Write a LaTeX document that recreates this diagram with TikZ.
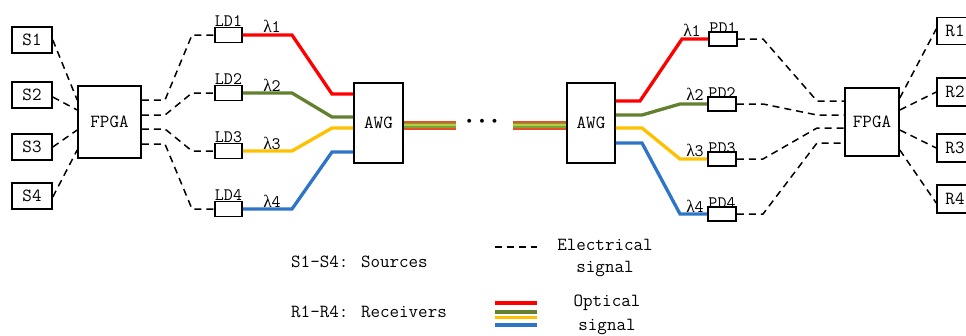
\documentclass[tikz,border=0pt]{standalone}
\usepackage{fontspec}
\newfontfamily\grk{Liberation Serif}
\definecolor{cred}{RGB}{255,0,0}
\definecolor{cgreen}{RGB}{98,128,48}
\definecolor{cyellow}{RGB}{255,192,0}
\definecolor{cblue}{RGB}{46,117,200}
\definecolor{tred}{RGB}{232,80,40}
\definecolor{tgreen}{RGB}{120,165,50}
\definecolor{tlight}{RGB}{180,205,70}
\begin{document}
\begin{tikzpicture}[x=1pt,y=-1pt,
  box/.style={draw, line width=1.6pt, inner sep=0pt, font=\ttfamily\fontsize{18.5}{18.5}\selectfont},
  small/.style={draw, line width=1.6pt, inner sep=0pt},
  lbl/.style={inner sep=0pt, font=\ttfamily\fontsize{17.5}{17.5}\selectfont},
  lam/.style={inner sep=0pt, font=\ttfamily\fontsize{17.5}{17.5}\selectfont},
  leg/.style={inner sep=0pt, font=\ttfamily\fontsize{18.5}{18.5}\selectfont},
  elec/.style={dashed, dash pattern=on 7pt off 5pt, line width=1.5pt, black},
  opt/.style={line width=3.3pt, line join=miter}
]
\useasboundingbox (0,0) rectangle (966,335);

% sources
\node[box, minimum width=40pt, minimum height=26pt] (s1) at (32,40) {S1};
\node[box, minimum width=40pt, minimum height=26pt] (s2) at (32,95) {S2};
\node[box, minimum width=40pt, minimum height=26pt] (s3) at (32,147) {S3};
\node[box, minimum width=40pt, minimum height=26pt] (s4) at (32,196) {S4};

% FPGA left
\node[box, minimum width=63pt, minimum height=72pt] (fpgaL) at (109.5,122) {FPGA};

% LD boxes
\node[small, minimum width=27pt, minimum height=15pt] (ld1) at (228.5,35) {};
\node[small, minimum width=27pt, minimum height=15pt] (ld2) at (228.5,93) {};
\node[small, minimum width=27pt, minimum height=15pt] (ld3) at (228.5,151) {};
\node[small, minimum width=27pt, minimum height=15pt] (ld4) at (228.5,209) {};
\node[lbl, anchor=base] (ld1t) at (ld1.north) {LD1};
\node[lbl, anchor=base] (ld2t) at (ld2.north) {LD2};
\node[lbl, anchor=base] (ld3t) at (ld3.north) {LD3};
\node[lbl, anchor=base] (ld4t) at (ld4.north) {LD4};

% AWG boxes
\node[box, minimum width=49pt, minimum height=80pt] (awgL) at (378.5,123) {AWG};
\node[box, minimum width=48pt, minimum height=80pt] (awgR) at (591,123) {AWG};

% PD boxes
\node[small, minimum width=28pt, minimum height=14pt] (pd1) at (723,39) {};
\node[small, minimum width=28pt, minimum height=14pt] (pd2) at (722,104) {};
\node[small, minimum width=28pt, minimum height=14pt] (pd3) at (722,159) {};
\node[small, minimum width=28pt, minimum height=14pt] (pd4) at (722,214) {};
\node[lbl, anchor=base] (pd1t) at ([yshift=-2pt]pd1.north) {PD1};
\node[lbl, anchor=base] (pd2t) at ([yshift=-2pt]pd2.north) {PD2};
\node[lbl, anchor=base] (pd3t) at ([yshift=-2pt]pd3.north) {PD3};
\node[lbl, anchor=base] (pd4t) at ([yshift=-2pt]pd4.north) {PD4};

% FPGA right
\node[box, minimum width=54pt, minimum height=68pt] (fpgaR) at (872,122) {FPGA};

% receivers
\node[box, minimum width=36pt, minimum height=27pt] (r1) at (955,31) {R1};
\node[box, minimum width=36pt, minimum height=28pt] (r2) at (955,92) {R2};
\node[box, minimum width=36pt, minimum height=28pt] (r3) at (955,148) {R3};
\node[box, minimum width=36pt, minimum height=28pt] (r4) at (955,199) {R4};

% ports
\coordinate (fl1) at (fpgaL.west |- 0,100);
\coordinate (fl2) at (fpgaL.west |- 0,110);
\coordinate (fl3) at (fpgaL.west |- 0,130);
\coordinate (fl4) at (fpgaL.west |- 0,150);
\coordinate (fo1) at (fpgaL.east |- 0,100);
\coordinate (fo2) at (fpgaL.east |- 0,115);
\coordinate (fo3) at (fpgaL.east |- 0,129);
\coordinate (fo4) at (fpgaL.east |- 0,144);
\coordinate (ai1) at (awgL.west |- 0,94);
\coordinate (ai2) at (awgL.west |- 0,117);
\coordinate (ai3) at (awgL.west |- 0,128);
\coordinate (ai4) at (awgL.west |- 0,152);
\coordinate (ao1) at (awgR.east |- 0,101);
\coordinate (ao2) at (awgR.east |- 0,115);
\coordinate (ao3) at (awgR.east |- 0,128);
\coordinate (ao4) at (awgR.east |- 0,143);
\coordinate (fi1) at (fpgaR.west |- 0,101);
\coordinate (fi2) at (fpgaR.west |- 0,115);
\coordinate (fi3) at (fpgaR.west |- 0,128);
\coordinate (fi4) at (fpgaR.west |- 0,143);
\coordinate (fr1) at (fpgaR.east |- 0,98);
\coordinate (fr2) at (fpgaR.east |- 0,110);
\coordinate (fr3) at (fpgaR.east |- 0,130);
\coordinate (fr4) at (fpgaR.east |- 0,150);

% electrical: sources -> FPGA
\draw[elec] (s1.east) -- (fl1);
\draw[elec] ([yshift=-2pt]s2.east) -- (fl2);
\draw[elec] (s3.east) -- (fl3);
\draw[elec] ([yshift=-1pt]s4.east) -- (fl4);

% electrical: FPGA -> LD
\draw[elec] (fo1) -- (165,100) -- (192,35) -- (ld1.west);
\draw[elec] (fo2) -- (165,115) -- (192,93) -- (ld2.west);
\draw[elec] (fo3) -- (165,129) -- (192,151) -- (ld3.west);
\draw[elec] (fo4) -- (165,144) -- (192,209) -- (ld4.west);

% optical: LD -> AWG
\draw[opt, cred] (ld1.east) -- (292,35) -- (332,94) -- (ai1);
\draw[opt, cgreen] (ld2.east) -- (292,93) -- (332,117) -- (ai2);
\draw[opt, cyellow] (ld3.east) -- (292,151) -- (332,128) -- (ai3);
\draw[opt, cblue] (ld4.east) -- (292,209) -- (332,152) -- (ai4);

% trunk
\coordinate (tl) at (456,125.3);
\coordinate (tr) at (513,125.3);
\draw[line width=9pt, tred] (awgL.east |- tl) -- (tl);
\draw[line width=5.5pt, tgreen] (awgL.east |- tl) -- (tl);
\draw[line width=2pt, tlight] (awgL.east |- tl) -- (tl);
\draw[line width=9pt, tred] (tr) -- (awgR.west |- tr);
\draw[line width=5.5pt, tgreen] (tr) -- (awgR.west |- tr);
\draw[line width=2pt, tlight] (tr) -- (awgR.west |- tr);
\node[inner sep=0pt, font=\fontsize{26}{26}\selectfont\boldmath] (dots) at (482,122) {$\cdots$};

% optical: AWG -> PD
\draw[opt, cred] (ao1) -- (640,101) -- (682,39) -- (pd1.west);
\draw[opt, cgreen] (ao2) -- (642,115) -- (680,104) -- (pd2.west);
\draw[opt, cyellow] (ao3) -- (642,128) -- (680,159) -- (pd3.west);
\draw[opt, cblue] (ao4) -- (642,143) -- (680,214) -- (pd4.west);

% electrical: PD -> FPGA
\draw[elec] (pd1.east) -- (763,39) -- (817,101) -- (fi1);
\draw[elec] (pd2.east) -- (763,104) -- (817,115) -- (fi2);
\draw[elec] (pd3.east) -- (763,159) -- (817,128) -- (fi3);
\draw[elec] (pd4.east) -- (763,214) -- (817,143) -- (fi4);

% electrical: FPGA -> receivers
\draw[elec] (fr1) -- ([yshift=2pt]r1.west);
\draw[elec] (fr2) -- (r2.west);
\draw[elec] (fr3) -- (r3.west);
\draw[elec] (fr4) -- ([yshift=-4pt]r4.west);

% lambda labels
\node[lam, anchor=base] (l1) at (272,32) {{\grk λ}1};
\node[lam, anchor=base] (l2) at (272,91) {{\grk λ}2};
\node[lam, anchor=base] (l3) at (272,149) {{\grk λ}3};
\node[lam, anchor=base] (l4) at (272,207) {{\grk λ}4};
\node[lam, anchor=base] (r1l) at (692,36) {{\grk λ}1};
\node[lam, anchor=base] (r2l) at (695,100) {{\grk λ}2};
\node[lam, anchor=base] (r3l) at (695,156) {{\grk λ}3};
\node[lam, anchor=base] (r4l) at (695,212) {{\grk λ}4};

% legend
\node[leg, anchor=west] (lgs) at (291,262) {S1-S4: Sources};
\node[leg, anchor=west] (lgr) at (291,312) {R1-R4: Receivers};
\coordinate (ea) at (495,247);
\coordinate (eb) at (537,247);
\draw[elec] (ea) -- (eb);
\node[leg] (el1) at (605,245) {Electrical};
\node[leg] (el2) at (605,269) {signal};
\coordinate (oa) at (495,303);
\coordinate (ob) at (537,303);
\draw[line width=3.2pt, cred] (oa) -- (ob);
\draw[line width=3.2pt, cgreen] ([yshift=-9pt]oa) -- ([yshift=-9pt]ob);
\draw[line width=3.2pt, cyellow] ([yshift=-14.5pt]oa) -- ([yshift=-14.5pt]ob);
\draw[line width=3.2pt, cblue] ([yshift=-22pt]oa) -- ([yshift=-22pt]ob);
\node[leg] (ol1) at (607,303) {Optical};
\node[leg] (ol2) at (607,327) {signal};
\end{tikzpicture}
\end{document}
